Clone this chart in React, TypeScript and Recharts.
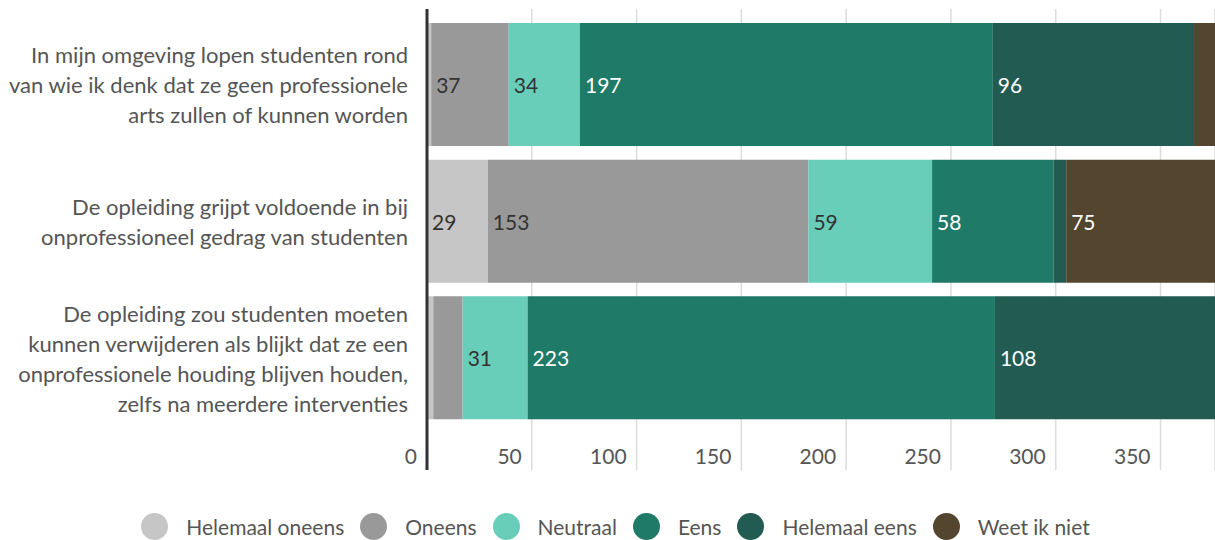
import React from 'react';
import { BarChart, Bar, XAxis, YAxis, CartesianGrid, Legend, LabelList } from 'recharts';

const categories = [
  'In mijn omgeving lopen studenten rond\nvan wie ik denk dat ze geen professionele\narts zullen of kunnen worden',
  'De opleiding grijpt voldoende in bij\nonprofessioneel gedrag van studenten',
  'De opleiding zou studenten moeten\nkunnen verwijderen als blijkt dat ze een\nonprofessionele houding blijven houden,\nzelfs na meerdere interventies',
];

const helemaalOneens = [2, 29, 3];
const oneens = [37, 153, 14];
const neutraal = [34, 59, 31];
const eens = [197, 58, 223];
const helemaalEens = [96, 6, 108];
const weetIkNiet = [12, 75, 3];

const xTicks = [0, 50, 100, 150, 200, 250, 300, 350];

const FONT = 'Lato, "Open Sans", sans-serif';
const TEXT = '#555';

// volgorde = stapelvolgorde
const series = [
  { key: 'helemaalOneens', name: 'Helemaal oneens', color: '#c6c6c6', label: '#333' },
  { key: 'oneens', name: 'Oneens', color: '#999999', label: '#333' },
  { key: 'neutraal', name: 'Neutraal', color: '#68cdb9', label: '#333' },
  { key: 'eens', name: 'Eens', color: '#1f7a68', label: '#fff' },
  { key: 'helemaalEens', name: 'Helemaal eens', color: '#225b51', label: '#fff' },
  { key: 'weetIkNiet', name: 'Weet ik niet', color: '#54452e', label: '#fff' },
];

const data = categories.map((cat, i) => ({
  cat,
  helemaalOneens: helemaalOneens[i],
  oneens: oneens[i],
  neutraal: neutraal[i],
  eens: eens[i],
  helemaalEens: helemaalEens[i],
  weetIkNiet: weetIkNiet[i],
}));

const CategoryTick = ({ x, y, payload }: any) => {
  const lines = String(payload.value).split('\n');
  const lh = 30;
  const start = y - ((lines.length - 1) * lh) / 2;
  return (
    <text x={x} y={start} textAnchor="end" dominantBaseline="central" fill={TEXT} fontSize={22} fontFamily={FONT}>
      {lines.map((l, i) => (
        <tspan key={i} x={x} y={start + i * lh}>
          {l}
        </tspan>
      ))}
    </text>
  );
};

const ValueTick = ({ x, y, payload }: any) => (
  <text x={x - 10} y={y - 14} textAnchor="end" fill={TEXT} fontSize={21} fontFamily={FONT}>
    {payload.value}
  </text>
);

const makeLabel = (color: string) => (props: any) => {
  const { x, y, height, value } = props;
  if (value < 20) return null;
  return (
    <text x={x + 5} y={y + height / 2} dominantBaseline="central" fill={color} fontSize={21} fontFamily={FONT}>
      {value}
    </text>
  );
};

const LegendContent = () => (
  <div
    style={{
      height: 69,
      display: 'flex',
      justifyContent: 'center',
      alignItems: 'flex-end',
      paddingLeft: 16,
      boxSizing: 'border-box',
      fontFamily: FONT,
      fontSize: 21,
      color: TEXT,
    }}
  >
    {series.map((s, i) => (
      <div
        key={s.key}
        style={{ display: 'flex', alignItems: 'center', marginRight: i === series.length - 1 ? 0 : 16 }}
      >
        <span style={{ width: 27, height: 27, borderRadius: '50%', background: s.color, marginRight: 18 }} />
        <span>{s.name}</span>
      </div>
    ))}
  </div>
);

export default function App() {
  return (
    <div style={{ position: 'absolute', left: 0, top: 0 }}>
      <BarChart
        width={1215}
        height={540}
        data={data}
        layout="vertical"
        margin={{ top: 9, right: 0, bottom: 0, left: 0 }}
        barCategoryGap={7}
      >
        <CartesianGrid horizontal={false} stroke="#dcdcdc" strokeWidth={1.5} />
        <XAxis
          type="number"
          domain={[0, 376]}
          allowDataOverflow
          ticks={xTicks}
          height={1}
          axisLine={false}
          tickLine={false}
          tick={<ValueTick />}
        />
        <YAxis
          type="category"
          dataKey="cat"
          width={427}
          padding={{ top: 7, bottom: 44 }}
          axisLine={{ stroke: '#333', strokeWidth: 3 }}
          tickLine={false}
          tickSize={0}
          tickMargin={19}
          tick={<CategoryTick />}
          interval={0}
        />
        <Legend verticalAlign="bottom" content={<LegendContent />} />
        {series.map((s) => (
          <Bar key={s.key} dataKey={s.key} name={s.name} stackId="a" fill={s.color} isAnimationActive={false}>
            <LabelList dataKey={s.key} content={makeLabel(s.label)} />
          </Bar>
        ))}
      </BarChart>
    </div>
  );
}
